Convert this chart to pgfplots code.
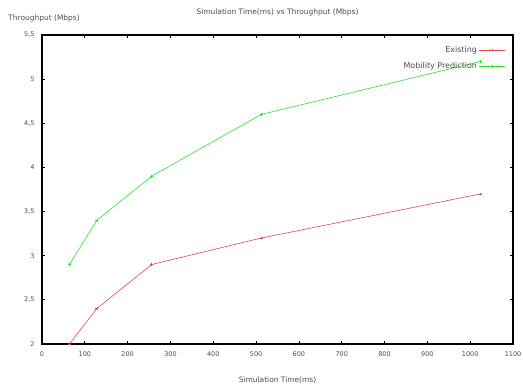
\documentclass[border=0pt]{standalone}
\usepackage{pgfplots}
\pgfplotsset{compat=1.18}
\usepackage{fontspec}
\setmainfont{DejaVu Sans}
\definecolor{gpred}{RGB}{225,70,70}
\definecolor{gpgreen}{RGB}{40,225,40}
\begin{document}
\begin{tikzpicture}
\begin{axis}[
  at={(0,0)}, anchor=south west,
  scale only axis, width=471bp, height=309bp,
  clip mode=individual,
  xmin=0, xmax=1100, ymin=2, ymax=5.5,
  xtick={0,100,...,1100}, ytick={2,2.5,3,3.5,4,4.5,5,5.5},
  yticklabels={2,{2,5},3,{3,5},4,{4,5},5,{5,5}},
  /pgf/number format/assume math mode=true,
  /pgf/number format/1000 sep={},
  ticklabel style={font=\fontsize{6.5}{7.5}\selectfont, text=black!70},
  tick align=inside, major tick length=3bp,
  tick style={black, line width=0.8pt},
  axis line style={line width=1.1pt},
  xticklabel style={yshift=-4bp},
  yticklabel style={xshift=-4bp},
  legend style={draw=none, fill=none, font=\fontsize{8}{9}\selectfont, text=black!70,
    at={(rel axis cs:0.99,0.977)}, anchor=north east, row sep=5bp},
  legend cell align=right,
  legend plot pos=right,
  legend image code/.code={\draw[mark repeat=2,mark phase=2,#1] plot coordinates {(0cm,0cm) (0.45cm,0cm) (0.9cm,0cm)};},
]
\addplot[color=gpred, line width=0.6pt, mark=+, mark size=1.4pt, mark options={solid}]
  coordinates {(64,2.0) (128,2.4) (256,2.9) (512,3.2) (1024,3.7)};
\addlegendentry{Existing}
\addplot[color=gpgreen, line width=0.6pt, mark=+, mark size=1.4pt, mark options={solid}]
  coordinates {(64,2.9) (128,3.4) (256,3.9) (512,4.6) (1024,5.2)};
\addlegendentry{Mobility Prediction}
\node[font=\fontsize{7.5}{8.5}\selectfont, text=black!70, anchor=west] at (rel axis cs:-0.079,1.055) {Throughput (Mbps)};
\node[font=\fontsize{7.5}{8.5}\selectfont, text=black!70] at (rel axis cs:0.5,1.074) {Simulation Time(ms) vs Throughput (Mbps)};
\node[font=\fontsize{7.5}{8.5}\selectfont, text=black!70] at (rel axis cs:0.5,-0.117) {Simulation Time(ms)};
\end{axis}
\pgfresetboundingbox
\useasboundingbox (-42bp,-46bp) rectangle (481bp,344bp);
\end{tikzpicture}
\end{document}
